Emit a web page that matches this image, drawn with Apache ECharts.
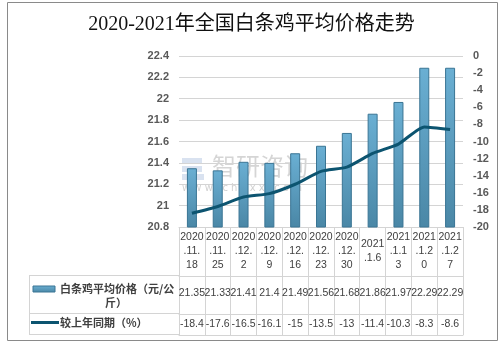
<!DOCTYPE html>
<html><head><meta charset="utf-8">
<script src="https://cdn.jsdelivr.net/npm/echarts@6/dist/echarts.min.js"></script>
<style>html,body{margin:0;padding:0;background:#fff}#c{width:503px;height:345px}</style>
</head><body><div id="c"></div>
<script>
// Weekly dates (wrapped as in the data table columns)
const dates = ['2020\n.11.\n18', '2020\n.11.\n25', '2020\n.12.\n2', '2020\n.12.\n9', '2020\n.12.\n16', '2020\n.12.\n23', '2020\n.12.\n30', '2021\n.1.6', '2021\n.1.1\n3', '2021\n.1.2\n0', '2021\n.1.2\n7'];
// Average price of whole chicken, yuan/kg
const price = [21.35, 21.33, 21.41, 21.4, 21.49, 21.56, 21.68, 21.86, 21.97, 22.29, 22.29];
// Year-on-year change, %
const yoy = [-18.4, -17.6, -16.5, -16.1, -15, -13.5, -13, -11.4, -10.3, -8.3, -8.6];
const priceName = '白条鸡平均价格（元/公斤）';
const yoyName = '较上年同期（%）';
const titleText = '2020-2021年全国白条鸡平均价格走势';

const numFont = '"Liberation Sans", sans-serif';
const tableLine = '#d4d4d4';
const barFill = new echarts.graphic.LinearGradient(0, 0, 0, 1, [
  { offset: 0, color: '#6aafd3' },
  { offset: 1, color: '#4a87a6' }
]);

const chart = echarts.init(document.getElementById('c'), null, { renderer: 'canvas' });

// Extra bottom axes form the rows of the data table under the plot
const tableAxis = (data, offset, margin, showLabel) => ({
  type: 'category', data: data, position: 'bottom', offset: offset,
  axisLine: { show: true, onZero: false, lineStyle: { color: tableLine, width: 1 } },
  axisTick: { show: false },
  axisLabel: { show: showLabel, interval: 0, margin: margin, verticalAlign: 'middle',
    fontFamily: numFont, fontSize: 10.5, color: '#404040' },
  splitLine: { show: false }
});

chart.setOption({
  animation: false,
  title: {
    text: titleText, left: 'center', top: 10,
    textStyle: { fontFamily: '"Liberation Serif", "Noto Sans CJK SC", serif', fontSize: 20, fontWeight: 'normal', color: '#111' }
  },
  grid: { left: 179, right: 40, top: 56, bottom: 118 },
  xAxis: [
    {
      type: 'category', data: dates, position: 'bottom',
      axisLine: { show: true, onZero: false, lineStyle: { color: tableLine } },
      axisTick: { show: true, interval: 0, length: 108, lineStyle: { color: tableLine, width: 1 } },
      axisLabel: { interval: 0, margin: 24, verticalAlign: 'middle', lineHeight: 14,
        fontFamily: numFont, fontSize: 10.5, color: '#404040' }
    },
    tableAxis(price.map(String), 49, 17, true),
    tableAxis(yoy.map(String), 87, 10, true),
    tableAxis(dates, 108, 0, false)
  ],
  yAxis: [
    {
      type: 'value', min: 20.8, max: 22.4, interval: 0.2,
      axisLine: { show: false }, axisTick: { show: false },
      axisLabel: { margin: 10, fontFamily: numFont, fontSize: 11, fontWeight: 'bold', color: '#595959',
        formatter: v => String(Math.round(v * 10) / 10) },
      splitLine: { lineStyle: { color: tableLine } }
    },
    {
      type: 'value', min: -20, max: 0, interval: 2, position: 'right',
      axisLine: { show: false }, axisTick: { show: false },
      axisLabel: { margin: 10, fontFamily: numFont, fontSize: 11, fontWeight: 'bold', color: '#595959' },
      splitLine: { show: false }
    }
  ],
  series: [
    {
      name: priceName, type: 'bar', xAxisIndex: 0, yAxisIndex: 0, data: price, barWidth: 10,
      itemStyle: { color: barFill, borderColor: '#3a7594', borderWidth: 1 }
    },
    {
      name: yoyName, type: 'line', xAxisIndex: 0, yAxisIndex: 1, data: yoy,
      smooth: 0.2, symbol: 'none', lineStyle: { color: '#0c5470', width: 3 }, itemStyle: { color: '#0c5470' },
      z: 5
    }
  ],
  graphic: [
    // outer frame
    { type: 'rect', shape: { x: 7.5, y: 2.5, width: 490, height: 338 }, style: { fill: 'none', stroke: '#8a8a8a', lineWidth: 1 }, z: 0 },
    // watermark
    { type: 'group', left: 182, top: 154, z: 1, children: [
      { type: 'rect', shape: { x: 0, y: 1, width: 20, height: 6 }, style: { fill: 'rgba(120,150,200,0.28)' } },
      { type: 'rect', shape: { x: 0, y: 9, width: 20, height: 6 }, style: { fill: 'rgba(120,150,200,0.28)' } },
      { type: 'rect', shape: { x: 0, y: 17, width: 22, height: 6 }, style: { fill: 'rgba(120,150,200,0.28)' } },
      { type: 'text', x: 30, y: -3, style: { text: '智研咨询', font: '24px "Noto Sans CJK SC"', fill: 'rgba(150,150,150,0.4)' } },
      { type: 'text', x: 0, y: 26, style: { text: 'w w w . c h y x x . c o m', font: '10px "DejaVu Sans"', fill: 'rgba(150,150,150,0.45)' } }
    ] },
    // data table: header column borders
    { type: 'line', shape: { x1: 29, y1: 275.5, x2: 179, y2: 275.5 }, style: { stroke: tableLine, lineWidth: 1 } },
    { type: 'line', shape: { x1: 29, y1: 313.5, x2: 179, y2: 313.5 }, style: { stroke: tableLine, lineWidth: 1 } },
    { type: 'line', shape: { x1: 29, y1: 334.5, x2: 179, y2: 334.5 }, style: { stroke: tableLine, lineWidth: 1 } },
    { type: 'line', shape: { x1: 29.5, y1: 275, x2: 29.5, y2: 335 }, style: { stroke: tableLine, lineWidth: 1 } },
    // series keys
    { type: 'rect', shape: { x: 33, y: 286, width: 22, height: 6 }, style: { fill: barFill, stroke: '#3a7594', lineWidth: 1 } },
    { type: 'text', x: 60, y: 289, style: { text: '白条鸡平均价格（元/公', font: 'bold 11px "Noto Sans CJK SC"', fill: '#404040', verticalAlign: 'middle' } },
    { type: 'text', x: 116, y: 303, style: { text: '斤）', font: 'bold 11px "Noto Sans CJK SC"', fill: '#404040', align: 'center', verticalAlign: 'middle' } },
    { type: 'line', shape: { x1: 31, y1: 322.5, x2: 59, y2: 322.5 }, style: { stroke: '#0c5470', lineWidth: 3 } },
    { type: 'text', x: 60, y: 323, style: { text: yoyName, font: 'bold 11px "Noto Sans CJK SC"', fill: '#404040', verticalAlign: 'middle' } }
  ]
});
</script></body></html>
